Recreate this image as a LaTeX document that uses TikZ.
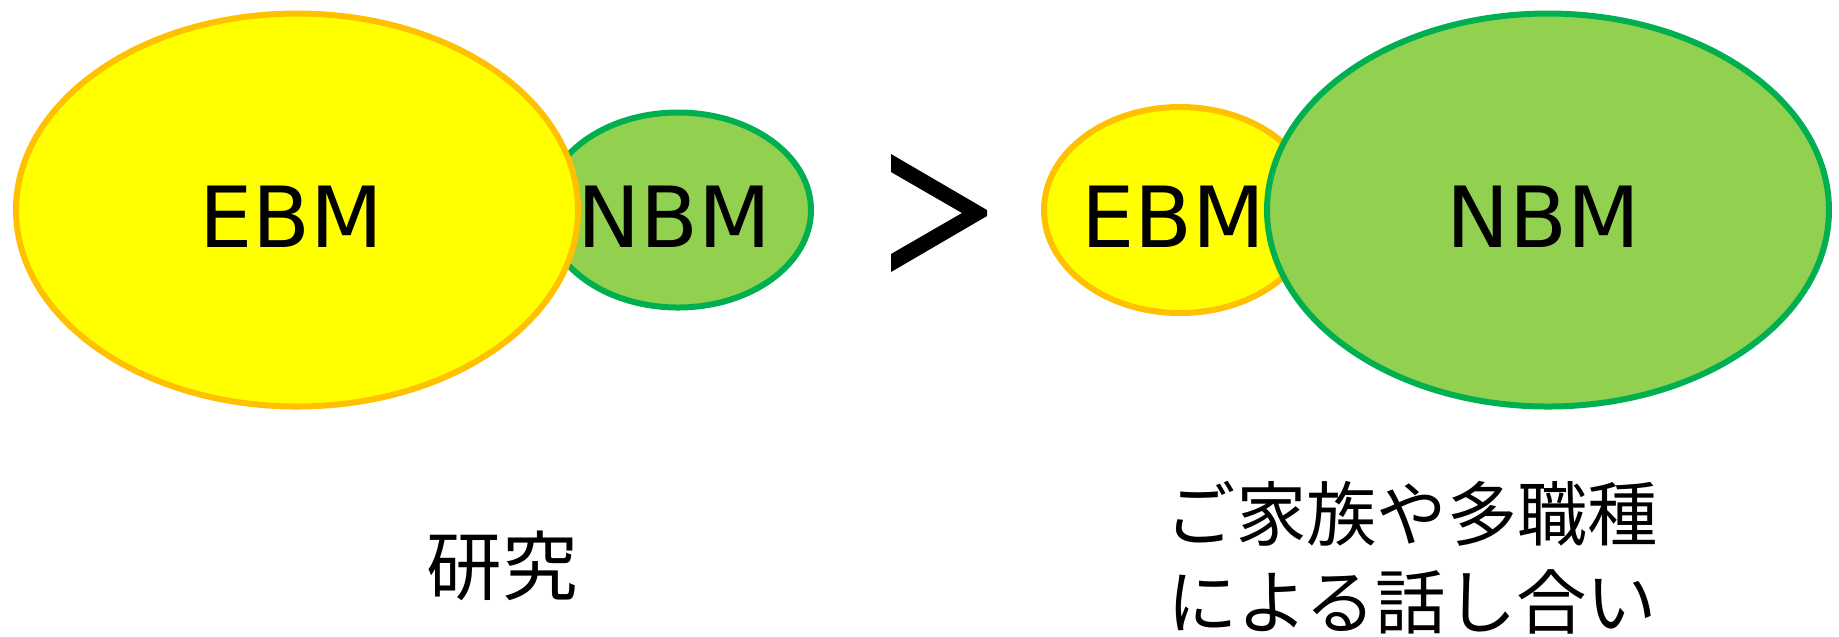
\documentclass[tikz,border=0pt]{standalone}
\usepackage{fontspec}
\setmainfont{DejaVu Sans}
\newfontfamily\jpfont{Noto Sans CJK JP}
\usetikzlibrary{shapes.geometric}
\definecolor{ebmfill}{HTML}{FFFF00}
\definecolor{ebmline}{HTML}{FFC000}
\definecolor{nbmfill}{HTML}{92D050}
\definecolor{nbmline}{HTML}{00B050}

\begin{document}
\begin{tikzpicture}[x=0.1mm, y=-0.1mm]
\tikzset{font=\fontsize{24pt}{28pt}\selectfont}
\tikzset{ebm/.style={ellipse, draw=ebmline, fill=ebmfill, line width=0.6mm, inner sep=0pt}}
\tikzset{nbm/.style={ellipse, draw=nbmline, fill=nbmfill, line width=0.6mm, inner sep=0pt}}
\tikzset{big/.style={minimum width=56.2mm, minimum height=39.3mm}}
\tikzset{jp/.style={font=\jpfont\fontsize{20pt}{25pt}\selectfont, align=center}}
\useasboundingbox (0,0) rectangle (1839,636);
% research
\node[nbm, minimum width=26.6mm, minimum height=19.5mm] (nbmL) at (678,210) {};
\node[ebm, big] (ebmL) at (297,210) {};
\node (ebmLtext) at (291,217) {EBM};
\node (nbmLtext) at (674,217) {NBM};
\node[jp, font=\jpfont\fontsize{21.5pt}{25pt}\selectfont] (research) at (502,566) {研究};
% greater than
\fill (891,154) -- (987,210) -- (987,216) -- (891,272) -- (891,254) -- (962,213) -- (891,172) -- cycle;
% talk
\node[ebm, minimum width=27.2mm, minimum height=20.6mm] (ebmR) at (1180,210) {};
\node[nbm, big] (nbmR) at (1548,210) {};
\node (ebmRtext) at (1173,217) {EBM};
\node (nbmRtext) at (1543,217) {NBM};
\node[jp] (talk) at (1412,558) {ご家族や多職種\\による話し合い};
\end{tikzpicture}
\end{document}
